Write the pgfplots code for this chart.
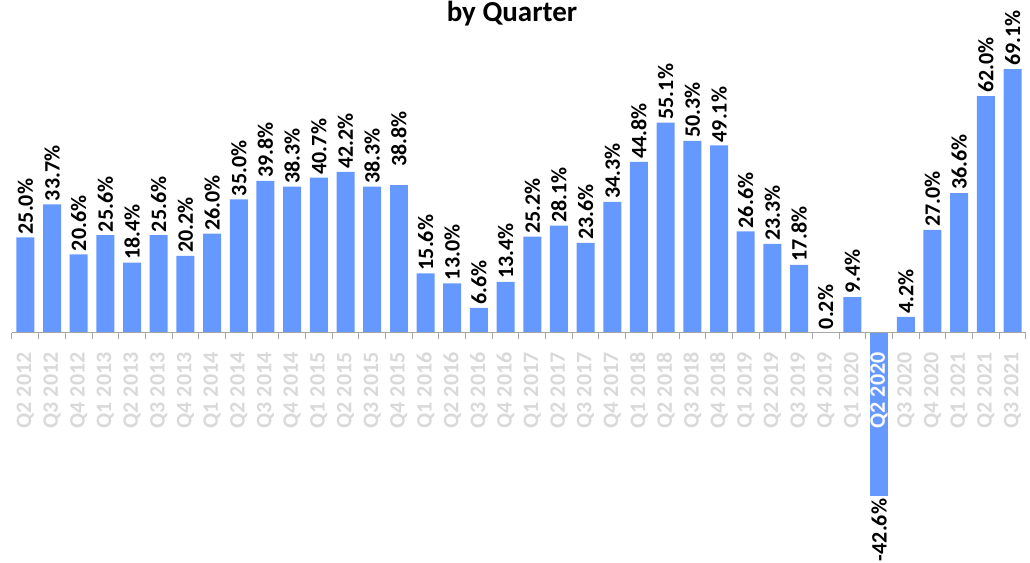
\documentclass[border=0pt]{standalone}
\usepackage{fontspec}
\setmainfont{Carlito}
\usepackage{pgfplots}
\pgfplotsset{compat=1.18}
\definecolor{barblue}{RGB}{102,153,255}
\definecolor{lbl}{RGB}{217,217,217}
\definecolor{axisgray}{RGB}{166,166,166}
\pgfplotsset{/pgf/number format/assume math mode=true}

\begin{document}
\begin{tikzpicture}
\useasboundingbox (0,0) rectangle (1030pt,562pt);
\node[anchor=base,font=\fontsize{29}{32}\selectfont\bfseries] at (512pt,540pt) {by Quarter};
\begin{axis}[
  at={(12pt,57.1pt)}, anchor=south west,
  scale only axis,
  x=26.68pt, y=3.82pt,
  xmin=-0.5, xmax=37.5, ymin=-45, ymax=72,
  clip=false,
  axis on top,
  axis x line=middle, axis y line=none,
  x axis line style={-,draw=axisgray,line width=1pt},
  ytick=\empty,
  xtick={-0.5,0.5,...,37.5},
  major tick length=6pt,
  tick align=outside,
  major tick style={draw=axisgray,line width=1pt},
  xticklabels={Q2 2012,Q3 2012,Q4 2012,Q1 2013,Q2 2013,Q3 2013,Q4 2013,Q1 2014,Q2 2014,Q3 2014,Q4 2014,Q1 2015,Q2 2015,Q3 2015,Q4 2015,Q1 2016,Q2 2016,Q3 2016,Q4 2016,Q1 2017,Q2 2017,Q3 2017,Q4 2017,Q1 2018,Q2 2018,Q3 2018,Q4 2018,Q1 2019,Q2 2019,Q3 2019,Q4 2019,Q1 2020,{\color{white}Q2 2020},Q3 2020,Q4 2020,Q1 2021,Q2 2021,Q3 2021,{}},
  xticklabel style={xshift=13.34pt,yshift=-10pt,rotate=90,anchor=east,text=lbl,font=\fontsize{22}{24}\selectfont\bfseries},
  ybar, bar width=18pt, bar shift=0pt,
  nodes near coords={\pgfmathprintnumber[fixed,fixed zerofill,precision=1]{\pgfplotspointmeta}\%},
  every node near coord/.append style={rotate=90,font=\fontsize{22}{24}\selectfont\bfseries,text=black,inner sep=3pt},
]
\addplot[fill=barblue,draw=none,nodes near coords style={anchor=west}] coordinates {
 (0,25.0) (1,33.7) (2,20.6) (3,25.6) (4,18.4) (5,25.6) (6,20.2) (7,26.0)
 (8,35.0) (9,39.8) (10,38.3) (11,40.7) (12,42.2) (13,38.3)
 (15,15.6) (16,13.0) (17,6.6) (18,13.4) (19,25.2) (20,28.1) (21,23.6)
 (22,34.3) (23,44.8) (24,55.1) (25,50.3) (26,49.1) (27,26.6) (28,23.3)
 (29,17.8) (30,0.2) (31,9.4) (33,4.2) (34,27.0) (35,36.6) (36,62.0) (37,69.1)
};
% Q4 2015: label sits higher above its bar in the original
\addplot[fill=barblue,draw=none,nodes near coords style={anchor=west,xshift=15pt}] coordinates {
 (14,38.8)
};
\addplot[fill=barblue,draw=none,nodes near coords style={anchor=east}] coordinates {
 (32,-42.6)
};
\end{axis}
\end{tikzpicture}
\end{document}
